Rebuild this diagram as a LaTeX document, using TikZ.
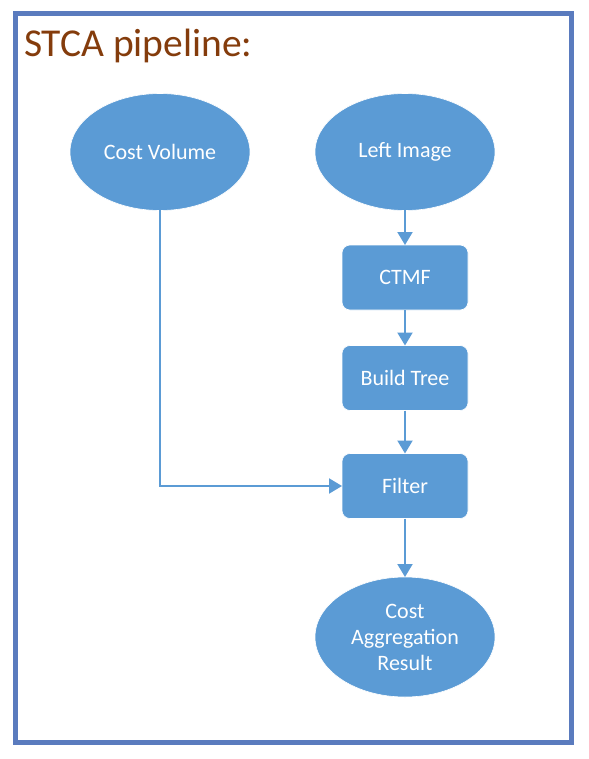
\documentclass[tikz,border=0pt]{standalone}
\usepackage{fontspec}
\setmainfont{Carlito}
\usetikzlibrary{shapes.geometric,arrows.meta}
\definecolor{nodeblue}{HTML}{5B9BD5}
\definecolor{frameblue}{HTML}{5A7BBE}
\definecolor{titlebrown}{HTML}{843C0C}
\tikzset{
  every node/.style={inner sep=0pt, outer sep=0pt},
  ovalnode/.style={ellipse, fill=nodeblue, draw=white, line width=0.6pt, minimum width=180pt, minimum height=117pt, text=white, align=center, font=\fontsize{22}{26}\selectfont},
  boxnode/.style={rectangle, rounded corners=8pt, fill=nodeblue, draw=white, line width=0.6pt, minimum width=126pt, minimum height=65pt, text=white, align=center, font=\fontsize{22}{26}\selectfont},
  flow/.style={draw=nodeblue, line width=2pt, -{Triangle[width=15pt,length=13pt]}}
}
\begin{document}
\begin{tikzpicture}[x=1pt,y=-1pt]
\useasboundingbox (0,0) rectangle (588,759);
\fill[white] (0,0) rectangle (588,759);
\draw[frameblue, line width=5pt] (15.5,14) rectangle (571,742);
\node[anchor=base west, text=titlebrown, font=\fontsize{39.5}{46}\selectfont] (title) at (24,57) {STCA pipeline:};
\node[ovalnode] (cv) at (160,152) {Cost Volume};
\node[ovalnode] (li) at (405,152) {Left Image};
\node[boxnode] (ctmf) at (405,277.5) {CTMF};
\node[boxnode] (bt) at (405,378) {Build Tree};
\node[boxnode] (filt) at (405,486) {Filter};
\node[ovalnode, minimum height=120pt] (res) at (405,637) {Cost\\Aggregation\\Result};
\draw[flow] (li) -- (ctmf);
\draw[flow] (ctmf) -- (bt);
\draw[flow] (bt) -- (filt);
\draw[flow] (filt) -- (res);
\draw[flow] (cv.south) |- (filt.west);
\end{tikzpicture}
\end{document}
